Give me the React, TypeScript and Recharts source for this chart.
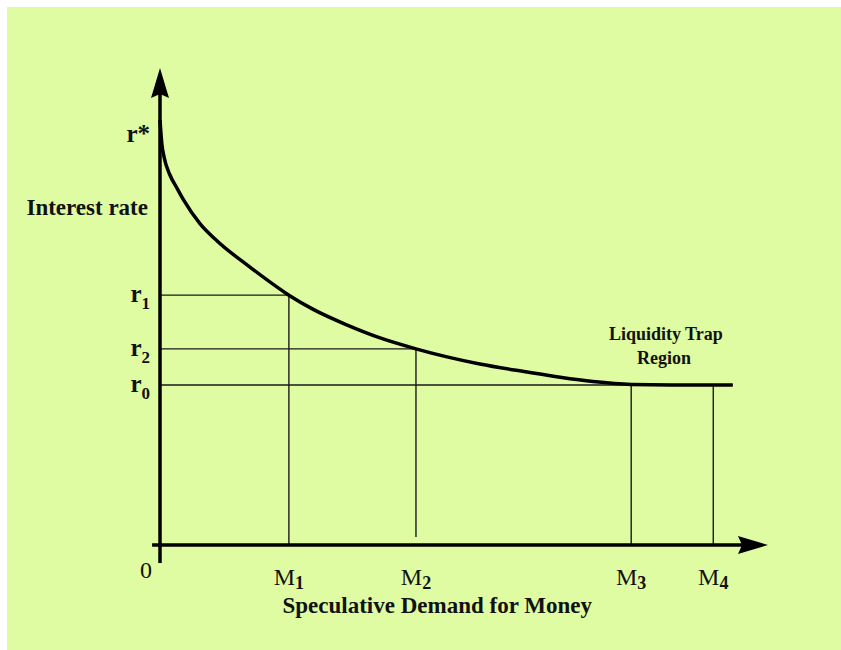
import React from "react";
import {
  LineChart,
  Line,
  XAxis,
  YAxis,
  ReferenceLine,
  ReferenceDot,
} from "recharts";

// speculative demand for money (x) vs interest rate (y)
const demand = [0, 0.3, 0.7, 1.6, 2.8, 3.8, 6.6, 9.4, 14.8, 21.2, 25.2, 30.8, 36.2, 42.1, 47.2, 52.6, 60.4, 65.8, 71.2, 77.5, 84, 94.2];
const rate = [89.5, 84.5, 81.5, 78.0, 75.1, 72.8, 67.6, 64.0, 58.5, 52.6, 49.6, 46.3, 43.6, 41.3, 39.6, 38.1, 36.4, 35.3, 34.4, 33.8, 33.7, 33.7];

const moneyTicks = [0, 21.2, 42.1, 77.5, 91.0];
const moneyLabels = ["0", "M|1", "M|2", "M|3", "M|4"];
const rateTicks = [86.3, 52.6, 41.3, 33.7];
const rateLabels = ["r*", "r|1", "r|2", "r|0"];

const r1 = rateTicks[1];
const r2 = rateTicks[2];
const r0 = rateTicks[3];
const m1 = moneyTicks[1];
const m2 = moneyTicks[2];
const m3 = moneyTicks[3];
const m4 = moneyTicks[4];
const curveEnd = demand[demand.length - 1];

const data = demand.map((d, i) => ({ demand: d, rate: rate[i] }));

const FONT = "'Liberation Serif', 'Times New Roman', serif";
const BG = "#dffca2";

function MoneyTick(props: any) {
  const { x, y, index } = props;
  const [main, sub] = moneyLabels[index].split("|");
  if (!sub) {
    return (
      <text x={x - 14} y={y + 25} textAnchor="middle" fontFamily={FONT} fontSize={24} fill="#111">
        {main}
      </text>
    );
  }
  return (
    <text x={x} y={y + 32} textAnchor="middle" fontFamily={FONT} fontSize={24} fill="#111">
      {main}
      <tspan fontSize={18} dy={4} fontWeight="bold">{sub}</tspan>
    </text>
  );
}

function RateTick(props: any) {
  const { x, y, index } = props;
  const [main, sub] = rateLabels[index].split("|");
  return (
    <text x={x - 2} y={y + 7} textAnchor="end" fontFamily={FONT} fontSize={25} fontWeight="bold" fill="#111">
      {main}
      {sub ? <tspan fontSize={17} dy={7}>{sub}</tspan> : null}
    </text>
  );
}

function arrowShape(dir: "up" | "right") {
  return (props: any) => {
    const { x1, y1, x2, y2 } = props;
    const head =
      dir === "up"
        ? `M${x2},${y2} L${x2 - 9},${y2 + 30} L${x2},${y2 + 26} L${x2 + 9},${y2 + 30} Z`
        : `M${x2},${y2} L${x2 - 30},${y2 - 9} L${x2 - 26},${y2} L${x2 - 30},${y2 + 9} Z`;
    return (
      <g>
        <line x1={x1} y1={y1} x2={dir === "up" ? x2 : x2 - 20} y2={dir === "up" ? y2 + 20 : y2} stroke="#000" strokeWidth={3.5} />
        <path d={head} fill="#000" />
      </g>
    );
  };
}

const guide = { stroke: "#1a1a1a", strokeWidth: 1.4, ifOverflow: "visible" as const };

export default function App() {
  return (
    <div style={{ position: "absolute", left: 0, top: 0, width: 841, height: 650, background: "#fff" }}>
      <div style={{ position: "absolute", left: 7, top: 7, width: 834, height: 643, background: BG }} />
      <div style={{ position: "absolute", left: 0, top: 0 }}>
        <LineChart width={841} height={650} data={data} margin={{ top: 70, right: 73, bottom: 75, left: 100 }}>
          <XAxis
            dataKey="demand"
            type="number"
            domain={[0, 100]}
            ticks={moneyTicks}
            tick={<MoneyTick />}
            axisLine={false}
            tickLine={false}
            height={30}
            interval={0}
          />
          <YAxis
            type="number"
            domain={[0, 100]}
            ticks={rateTicks}
            tick={<RateTick />}
            axisLine={false}
            tickLine={false}
            width={60}
            interval={0}
          />

          <ReferenceLine segment={[{ x: 0, y: r1 }, { x: m1, y: r1 }]} {...guide} />
          <ReferenceLine segment={[{ x: m1, y: r1 }, { x: m1, y: 0 }]} {...guide} />
          <ReferenceLine segment={[{ x: 0, y: r2 }, { x: m2, y: r2 }]} {...guide} />
          <ReferenceLine segment={[{ x: m2, y: r2 }, { x: m2, y: 1.7 }]} {...guide} />
          <ReferenceLine segment={[{ x: 0, y: r0 }, { x: curveEnd, y: r0 }]} {...guide} />
          <ReferenceLine segment={[{ x: m3, y: r0 }, { x: m3, y: 0 }]} {...guide} />
          <ReferenceLine segment={[{ x: m4, y: r0 }, { x: m4, y: 0 }]} {...guide} />

          <Line
            dataKey="rate"
            type="monotone"
            stroke="#000"
            strokeWidth={3.5}
            dot={false}
            activeDot={false}
            isAnimationActive={false}
          />

          <ReferenceLine
            segment={[{ x: 0, y: -3.8 }, { x: 0, y: 100.4 }]}
            ifOverflow="visible"
            shape={arrowShape("up")}
          />
          <ReferenceLine
            segment={[{ x: -1.3, y: 0 }, { x: 100, y: 0 }]}
            ifOverflow="visible"
            shape={arrowShape("right")}
          />

          <ReferenceDot
            x={0}
            y={71.2}
            r={0}
            ifOverflow="visible"
            label={{ value: "Interest rate", position: "left", offset: 12, fontFamily: FONT, fontSize: 23, fontWeight: "bold", fill: "#111" }}
          />
          <ReferenceDot
            x={83.2}
            y={44.6}
            r={0}
            ifOverflow="visible"
            label={{ value: "Liquidity Trap", position: "center", fontFamily: FONT, fontSize: 18, fontWeight: "bold", fill: "#111" }}
          />
          <ReferenceDot
            x={82.9}
            y={39.4}
            r={0}
            ifOverflow="visible"
            label={{ value: "Region", position: "center", fontFamily: FONT, fontSize: 18, fontWeight: "bold", fill: "#111" }}
          />
          <ReferenceDot
            x={45.6}
            y={-12.6}
            r={0}
            ifOverflow="visible"
            label={{ value: "Speculative Demand for Money", position: "center", fontFamily: FONT, fontSize: 23, fontWeight: "bold", fill: "#111" }}
          />
        </LineChart>
      </div>
    </div>
  );
}
